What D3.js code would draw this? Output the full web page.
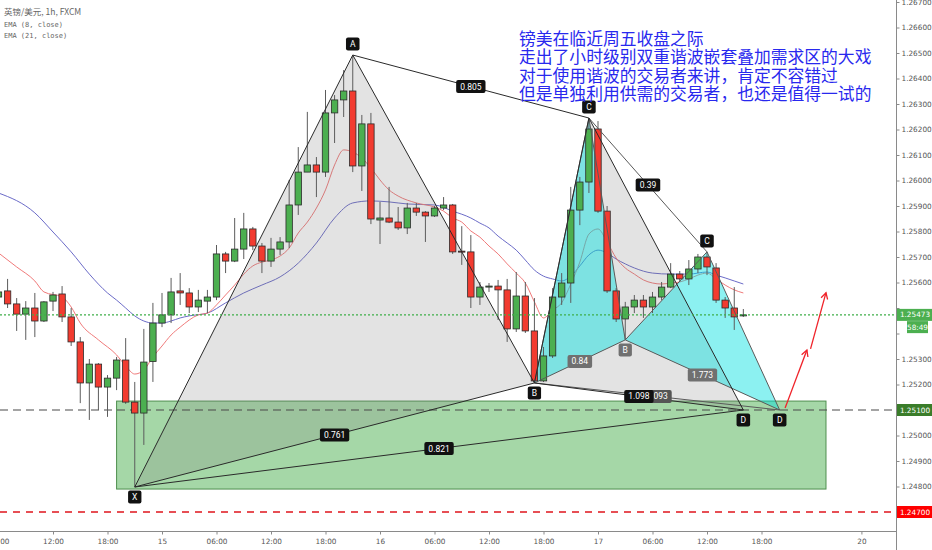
<!DOCTYPE html>
<html><head><meta charset="utf-8">
<script src="https://cdn.jsdelivr.net/npm/d3@7"></script>
<style>body{margin:0;background:#fff;overflow:hidden}svg{display:block}</style>
</head><body>
<svg id="chart" width="932" height="550"></svg>
<script>
// ---------- DATA ----------
const hours = [6,7,8,9,10,11,12,13,14,15,16,17,18,19,20,21,22,23,24,25,26,27,28,29,30,31,32,33,34,35,36,37,38,39,40,41,42,43,44,45,46,47,48,49,50,51,52,53,54,55,56,57,58,59,60,61,62,63,64,65,66,67,68,69,70,71,72,73,74,75,76,77,78,79,80,81,82,83,84,85,86,87,88];
const opens = [1.25543,1.25567,1.25516,1.25476,1.25500,1.25449,1.25527,1.25555,1.25465,1.25367,1.25206,1.25280,1.25190,1.25225,1.25296,1.25131,1.25088,1.25290,1.25441,1.25473,1.25567,1.25559,1.25504,1.25527,1.25543,1.25712,1.25684,1.25731,1.25810,1.25743,1.25684,1.25731,1.25759,1.25904,1.26033,1.26061,1.26033,1.26265,1.26316,1.26351,1.26057,1.26222,1.25845,1.25853,1.25837,1.25814,1.25892,1.25876,1.25861,1.25892,1.25904,1.25723,1.25720,1.25543,1.25582,1.25586,1.25571,1.25418,1.25547,1.25410,1.25214,1.25312,1.25543,1.25598,1.25884,1.25994,1.26202,1.25880,1.25567,1.25457,1.25504,1.25531,1.25504,1.25543,1.25582,1.25633,1.25614,1.25653,1.25700,1.25657,1.25531,1.25500,1.25469];
const highs = [1.25578,1.25614,1.25539,1.25527,1.25559,1.25527,1.25563,1.25586,1.25500,1.25386,1.25300,1.25284,1.25237,1.25308,1.25382,1.25210,1.25418,1.25520,1.25559,1.25618,1.25637,1.25578,1.25571,1.25571,1.25747,1.25720,1.25853,1.25873,1.25818,1.25755,1.25775,1.25778,1.26002,1.26131,1.26269,1.26092,1.26355,1.26335,1.26433,1.26492,1.26257,1.26265,1.25916,1.25975,1.25896,1.25912,1.25912,1.25880,1.25900,1.25935,1.25908,1.25821,1.25786,1.25602,1.25598,1.25610,1.25614,1.25641,1.25602,1.25539,1.25347,1.25578,1.25637,1.25975,1.26014,1.26245,1.26233,1.25900,1.25578,1.25524,1.25551,1.25551,1.25563,1.25602,1.25676,1.25645,1.25688,1.25712,1.25720,1.25676,1.25543,1.25582,1.25496];
const lows = [1.25531,1.25500,1.25410,1.25375,1.25386,1.25445,1.25488,1.25445,1.25351,1.25127,1.25061,1.25100,1.25073,1.25178,1.25124,1.24798,1.24963,1.25210,1.25425,1.25441,1.25512,1.25480,1.25484,1.25480,1.25531,1.25637,1.25680,1.25692,1.25727,1.25637,1.25661,1.25708,1.25735,1.25865,1.26033,1.25935,1.26014,1.26147,1.26249,1.26033,1.25959,1.25829,1.25751,1.25833,1.25806,1.25790,1.25861,1.25759,1.25857,1.25884,1.25712,1.25669,1.25500,1.25512,1.25563,1.25453,1.25367,1.25406,1.25402,1.25206,1.25210,1.25304,1.25512,1.25520,1.25825,1.25951,1.25873,1.25559,1.25445,1.25375,1.25480,1.25461,1.25480,1.25531,1.25578,1.25602,1.25590,1.25637,1.25629,1.25520,1.25461,1.25414,1.25465];
const closes = [1.25563,1.25516,1.25476,1.25500,1.25449,1.25524,1.25551,1.25465,1.25367,1.25206,1.25280,1.25190,1.25225,1.25296,1.25131,1.25088,1.25288,1.25441,1.25473,1.25563,1.25559,1.25504,1.25531,1.25543,1.25712,1.25684,1.25731,1.25810,1.25743,1.25684,1.25731,1.25759,1.25904,1.26033,1.26061,1.26033,1.26265,1.26316,1.26351,1.26057,1.26222,1.25849,1.25853,1.25837,1.25814,1.25892,1.25876,1.25861,1.25892,1.25904,1.25720,1.25720,1.25543,1.25582,1.25586,1.25571,1.25418,1.25547,1.25410,1.25214,1.25312,1.25543,1.25598,1.25884,1.25994,1.26202,1.25880,1.25567,1.25457,1.25504,1.25531,1.25504,1.25543,1.25582,1.25633,1.25614,1.25653,1.25700,1.25661,1.25531,1.25500,1.25465,1.25473];

// EMA(8, close): [hour, value]
const ema8 = [[6,1.25716],[8,1.25661],[10,1.25606],[11,1.25563],[13,1.25543],[14,1.25504],[15,1.25441],[17,1.25375],[19,1.25316],[20,1.25273],[21,1.25241],[22,1.25257],[23,1.25308],[24,1.25351],[25,1.25394],[26,1.25425],[28,1.25473],[29,1.25480],[30,1.25512],[31,1.25551],[32,1.25590],[33,1.25633],[34,1.25665],[35,1.25680],[36,1.25688],[37,1.25704],[38,1.25735],[39,1.25794],[40,1.25837],[41,1.25892],[42,1.25963],[43,1.26061],[44,1.26120],[45,1.26112],[46,1.26088],[47,1.26049],[48,1.26002],[49,1.25963],[50,1.25939],[52,1.25912],[54,1.25896],[55,1.25880],[56,1.25853],[57,1.25837],[58,1.25802],[59,1.25778],[60,1.25743],[61,1.25712],[62,1.25673],[63,1.25637],[64,1.25598],[65,1.25524],[66,1.25461],[67,1.25492],[68,1.25520],[69,1.25594],[70,1.25680],[71,1.25790],[72,1.25810],[73,1.25759],[74,1.25696],[75,1.25657],[76,1.25633],[77,1.25610],[78,1.25598],[79,1.25594],[80,1.25598],[81,1.25602],[82,1.25614],[83,1.25629],[84,1.25637],[85,1.25614],[86,1.25590],[87,1.25571],[88,1.25559]];
// EMA(21, close)
const ema21 = [[6,1.25951],[10,1.25873],[12,1.25798],[14,1.25720],[16,1.25633],[18,1.25559],[19,1.25531],[20,1.25500],[21,1.25469],[22,1.25449],[23,1.25441],[24,1.25441],[25,1.25449],[26,1.25461],[27,1.25469],[29,1.25480],[31,1.25520],[33,1.25559],[35,1.25590],[37,1.25622],[39,1.25676],[41,1.25755],[43,1.25853],[45,1.25912],[47,1.25920],[49,1.25916],[51,1.25908],[54,1.25904],[56,1.25880],[58,1.25853],[59,1.25833],[60,1.25814],[61,1.25782],[62,1.25755],[63,1.25727],[64,1.25688],[65,1.25649],[66,1.25625],[67,1.25614],[68,1.25606],[69,1.25625],[70,1.25665],[71,1.25708],[72,1.25727],[73,1.25716],[74,1.25692],[75,1.25673],[76,1.25657],[78,1.25637],[80,1.25633],[82,1.25633],[84,1.25641],[85,1.25629],[86,1.25618],[87,1.25606],[88,1.25594]];

// Harmonic patterns (XABCD points: [hour, price])
const pattern1Names = ["X","A","B","C","D"];
const pattern1 = [[21,1.24798],[45,1.26492],[65,1.25206],[71,1.26245],[88,1.25100]];
const pattern1Ratios = ["0.761","0.805","1.098","0.821"]; // XB, AC, BD, XD
const pattern2Names = ["","","B","C","D"];
const pattern2 = [[65,1.25206],[71,1.26245],[75,1.25375],[84,1.25720],[92,1.25100]];
const pattern2Ratios = ["0.84","0.39","1.773","1.093"];

// Demand zone
const zoneTime = [19, 97.1];
const zonePrice = [1.24790, 1.25135];

// Horizontal levels
const lastPrice = 1.25473;
const levelMid = 1.25100;
const levelLow = 1.24700;
const countdown = "58:49";

// Projection arrow [hour, price]
const arrowPts1 = [[92.6,1.25108],[95.0,1.25335]];
const arrowPts2 = [[95.4,1.25340],[97.1,1.25560]];

// Axis ticks
const xTicks = [6,12,18,24,30,36,42,48,54,60,66,72,78,84,90,101];
const xTickLabels = ["06:00","12:00","18:00","15","06:00","12:00","18:00","16","06:00","12:00","18:00","17","06:00","12:00","18:00","20"];
const yTicks = [1.247,1.248,1.249,1.250,1.251,1.252,1.253,1.254,1.255,1.256,1.257,1.258,1.259,1.260,1.261,1.262,1.263,1.264,1.265,1.266,1.267];
const yTicksUnderTags = [1.247,1.251,1.254,1.255];

const legendLines = ["英镑/美元, 1h, FXCM","EMA (8, close)","EMA (21, close)"];
const noteLines = ["镑美在临近周五收盘之际","走出了小时级别双重谐波嵌套叠加需求区的大戏","对于使用谐波的交易者来讲，肯定不容错过","但是单独利用供需的交易者，也还是值得一试的"];

// ---------- CHART ----------
const svg = d3.select("#chart");
const PW = 896, PB = 531;
const xRef = d3.scaleLinear().domain([24,96]).range([162,816]);
const x = d3.scaleLinear().domain([xRef.invert(0), xRef.invert(PW)]).range([0,PW]);
const yRef = d3.scaleLinear().domain([1.247,1.267]).range([512,2]);
const y = d3.scaleLinear().domain([yRef.invert(PB), yRef.invert(0)]).range([PB,0]);

svg.append("rect").attr("width",932).attr("height",550).attr("fill","#fff");
svg.append("clipPath").attr("id","plot").append("rect").attr("width",PW).attr("height",PB);
const g = svg.append("g").attr("clip-path","url(#plot)");

// zone
g.append("rect")
  .attr("x", x(zoneTime[0])).attr("y", y(zonePrice[1]))
  .attr("width", x(zoneTime[1]) - x(zoneTime[0]))
  .attr("height", y(zonePrice[0]) - y(zonePrice[1]))
  .attr("fill","rgba(76,175,80,0.5)").attr("stroke","#4f8f4f").attr("stroke-width",1);

// EMAs
const line = d3.line().x(d=>x(d[0])).y(d=>y(d[1])).curve(d3.curveMonotoneX);
g.append("path").datum(ema21).attr("d",line).attr("fill","none").attr("stroke","#6b6bc8").attr("stroke-width",1);
g.append("path").datum(ema8).attr("d",line).attr("fill","none").attr("stroke","#f07a7a").attr("stroke-width",1);

// pattern fills
function tri(pts, idx){ return idx.map(i=>[x(pts[i][0]), y(pts[i][1])]); }
const poly = d3.line();
[[pattern1,"rgba(125,125,125,0.21)"],[pattern2,"rgba(0,225,225,0.45)"]].forEach(([p,c])=>{
  g.append("path").attr("d", poly(tri(p,[0,1,2]))+"Z").attr("fill",c);
  g.append("path").attr("d", poly(tri(p,[2,3,4]))+"Z").attr("fill",c);
});

// levels
g.append("line").attr("x1",0).attr("x2",PW).attr("y1",y(levelMid)).attr("y2",y(levelMid))
  .attr("stroke","#4a4a4a").attr("stroke-width",1.2).attr("stroke-dasharray","8,5");
g.append("line").attr("x1",0).attr("x2",PW).attr("y1",y(levelLow)).attr("y2",y(levelLow))
  .attr("stroke","#e0141c").attr("stroke-width",1.3).attr("stroke-dasharray","7,6");

// candles
const bw = 6.4;
const cg = g.append("g");
hours.forEach((h,i)=>{
  const o=opens[i], c=closes[i], hi=highs[i], lo=lows[i];
  const up = c >= o;
  cg.append("line").attr("x1",x(h)).attr("x2",x(h)).attr("y1",y(hi)).attr("y2",y(lo))
    .attr("stroke","#5c5c5c").attr("stroke-width",1);
  const top = y(Math.max(o,c)), bot = y(Math.min(o,c));
  cg.append("rect").attr("x",x(h)-bw/2).attr("y",top).attr("width",bw).attr("height",Math.max(1,bot-top))
    .attr("fill", up ? "#4caf50" : "#f23b30").attr("stroke","#2b2b2b").attr("stroke-width",0.8);
});

// pattern lines
const pairs = [[0,1],[1,2],[2,3],[3,4],[0,2],[1,3],[2,4],[0,4]];
function drawLines(p, col){
  pairs.forEach(([a,b])=>{
    g.append("line").attr("x1",x(p[a][0])).attr("y1",y(p[a][1])).attr("x2",x(p[b][0])).attr("y2",y(p[b][1]))
      .attr("stroke",col).attr("stroke-width",1);
  });
}
drawLines(pattern2,"#5a5a5a");
drawLines(pattern1,"#2a2a2a");

// current price dotted
g.append("line").attr("x1",0).attr("x2",PW).attr("y1",y(lastPrice)).attr("y2",y(lastPrice))
  .attr("stroke","#3fae49").attr("stroke-width",1.1).attr("stroke-dasharray","2,2");

// arrows
function arrow(pts){
  const p = pts.map(d=>[x(d[0]),y(d[1])]);
  g.append("path").attr("d",d3.line()(p)).attr("fill","none").attr("stroke","#f0232a").attr("stroke-width",1.3);
  const [x1,y1]=p[0],[x2,y2]=p[1];
  const ang = Math.atan2(y2-y1,x2-x1), L=7, s=0.5;
  const a1=[x2-L*Math.cos(ang-s), y2-L*Math.sin(ang-s)], a2=[x2-L*Math.cos(ang+s), y2-L*Math.sin(ang+s)];
  g.append("path").attr("d",d3.line()([a1,[x2,y2],a2])).attr("fill","none").attr("stroke","#f0232a").attr("stroke-width",1.3);
}
arrow(arrowPts1); arrow(arrowPts2);

// labels
const lg = svg.append("g");
function label(cx, cy, t, bg){
  const gg = lg.append("g");
  const tx = gg.append("text").attr("x",cx).attr("y",cy).attr("text-anchor","middle").attr("dominant-baseline","central")
    .attr("font-family","Roboto, 'Liberation Sans', sans-serif").attr("font-size",8.5).attr("fill","#fff").text(t);
  const w = Math.max(13, tx.node().getComputedTextLength()+8);
  gg.insert("rect","text").attr("x",cx-w/2).attr("y",cy-6.5).attr("width",w).attr("height",13).attr("rx",2).attr("fill",bg);
}
function ratioLabels(p, ratios, bgs){
  [[0,2],[1,3],[2,4],[0,4]].forEach(([a,b],i)=>{
    const cx=(x(p[a][0])+x(p[b][0]))/2, cy=(y(p[a][1])+y(p[b][1]))/2;
    label(cx, cy, ratios[i], bgs[i]);
  });
}
ratioLabels(pattern2, pattern2Ratios, ["#707070","#111","#707070","#555"]);
ratioLabels(pattern1, pattern1Ratios, ["#111","#111","#111","#111"]);
const below1 = [true,false,true,false,true];
pattern1.forEach((d,i)=>label(x(d[0]), y(d[1]) + (below1[i]?10:-11), pattern1Names[i], "#111"));
pattern2.forEach((d,i)=>{ if(pattern2Names[i]) label(x(d[0]), y(d[1]) + (i===3?-11:10), pattern2Names[i], i===2?"#707070":"#111"); });

// axes
svg.append("line").attr("x1",PW+0.5).attr("x2",PW+0.5).attr("y1",0).attr("y2",550).attr("stroke","#8a8a8a");
svg.append("line").attr("x1",0).attr("x2",PW).attr("y1",PB+0.5).attr("y2",PB+0.5).attr("stroke","#8a8a8a");
const ya = svg.append("g").attr("transform",`translate(${PW+0.5},0)`)
  .call(d3.axisRight(y).tickValues(yTicks).tickFormat(d=>yTicksUnderTags.some(v=>Math.abs(v-d)<1e-7)?"":d.toFixed(5)).tickSize(3).tickPadding(2));
ya.select(".domain").remove();
ya.selectAll("text").attr("font-family","'DejaVu Sans', sans-serif").attr("font-size",7.3).attr("fill","#555");
ya.selectAll("line").attr("stroke","#8a8a8a");
const xa = svg.append("g").attr("transform",`translate(0,${PB+0.5})`)
  .call(d3.axisBottom(x).tickValues(xTicks).tickFormat((d,i)=>xTickLabels[i]).tickSize(3).tickPadding(4));
xa.select(".domain").remove();
xa.selectAll("text").attr("font-family","'DejaVu Sans', sans-serif").attr("font-size",7.3).attr("fill","#555");
xa.selectAll("line").attr("stroke","#8a8a8a");

// price tags
function tag(v, txt, bg, x0, w){
  const cy = y(v);
  svg.append("rect").attr("x",x0).attr("y",cy-6).attr("width",w).attr("height",12).attr("fill",bg);
  svg.append("text").attr("x",x0+w/2).attr("y",cy).attr("text-anchor","middle").attr("dominant-baseline","central")
    .attr("font-family","'DejaVu Sans', sans-serif").attr("font-size",7.3).attr("fill","#fff").text(txt);
}
tag(lastPrice, lastPrice.toFixed(5), "#4caf50", PW+1, 36);
tag(lastPrice - 0.00048, countdown, "#4caf50", PW+11, 21);
tag(levelMid, levelMid.toFixed(5), "#3a7d2a", PW+1, 36);
tag(levelLow, levelLow.toFixed(5), "#ff0000", PW+1, 36);

// legend
const lgd = svg.append("g");
lgd.append("text").attr("x",4).attr("y",15).attr("font-family","'Noto Sans CJK SC', 'DejaVu Sans Mono', monospace").attr("font-size",8.5).attr("fill","#666").text(legendLines[0]);
lgd.append("text").attr("x",4).attr("y",27).attr("font-family","'DejaVu Sans Mono', monospace").attr("font-size",7).attr("fill","#666").text(legendLines[1]);
lgd.append("text").attr("x",4).attr("y",38).attr("font-family","'DejaVu Sans Mono', monospace").attr("font-size",7).attr("fill","#666").text(legendLines[2]);

// note
noteLines.forEach((t,i)=>{
  svg.append("text").attr("x",519).attr("y",44.5 + i*18.5)
    .attr("font-family","'Noto Sans CJK SC', sans-serif").attr("font-size",16.8).attr("fill","#2828ee").text(t);
});
</script>
</body></html>
